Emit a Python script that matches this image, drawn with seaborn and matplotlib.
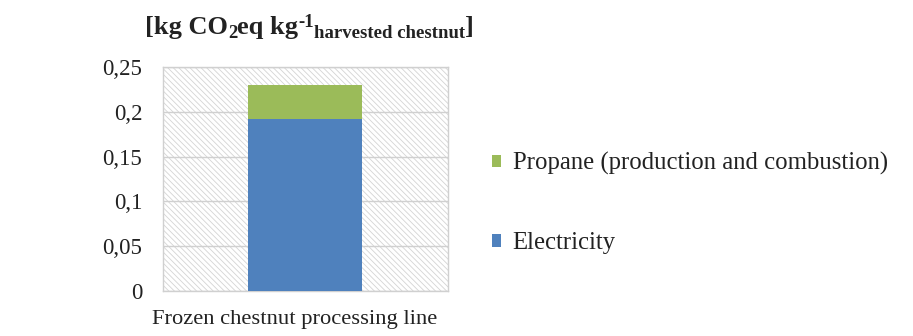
import matplotlib
matplotlib.use("Agg")
import matplotlib.pyplot as plt
from matplotlib.patches import Rectangle
from matplotlib.ticker import FuncFormatter
from matplotlib.transforms import offset_copy, ScaledTranslation
import seaborn as sns

categories = ["Frozen chestnut processing line"]
electricity = [0.192]
propane = [0.038]
series_labels = ["Electricity", "Propane (production and combustion)"]
yticks = [0, 0.05, 0.1, 0.15, 0.2, 0.25]

sns.set_theme(style="white")
plt.rcParams["font.family"] = "serif"
plt.rcParams["font.serif"] = ["Liberation Serif", "DejaVu Serif"]
plt.rcParams["hatch.linewidth"] = 0.6

fig = plt.figure(figsize=(9.13, 3.36), dpi=100)
ax = fig.add_axes([0.1785, 0.134, 0.3122, 0.6666])

grey = "#d0d0d0"
# hatched plot-area background
ax.add_patch(Rectangle((0, 0), 1, 1, transform=ax.transAxes, facecolor="white",
                       edgecolor="#d4d4d4", linewidth=0, hatch="\\" * 6, zorder=0))

blue = "#4F81BD"
green = "#9BBB59"
sns.barplot(x=categories, y=electricity, color=blue, width=0.4, ax=ax,
            saturation=1, linewidth=0, zorder=3, label=series_labels[0])
sns.barplot(x=categories, y=propane, bottom=electricity, color=green, width=0.4,
            ax=ax, saturation=1, linewidth=0, zorder=3, label=series_labels[1])
handles, labels = ax.get_legend_handles_labels()
if ax.legend_ is not None:
    ax.legend_.remove()

ax.set_xlim(-0.5, 0.5)
ax.set_ylim(0, 0.25)
ax.set_yticks(yticks)
ax.yaxis.set_major_formatter(FuncFormatter(lambda v, p: ("%g" % v).replace(".", ",")))
ax.grid(axis="y", color=grey, linewidth=1, zorder=1)
ax.set_axisbelow(True)
for s in ax.spines.values():
    s.set_color(grey)
    s.set_linewidth(1)
text_col = "#222222"
ax.tick_params(axis="both", length=0, labelsize=16.5, colors=text_col)
ax.tick_params(axis="x", pad=14, labelsize=16.2)
ax.tick_params(axis="y", pad=15)
ax.set_xlabel("")
ax.set_ylabel("")
# category label sits a little left of the bar centre
for lbl in ax.get_xticklabels():
    lbl.set_transform(lbl.get_transform() + ScaledTranslation(-0.11, 0, fig.dpi_scale_trans))

# unit title built from pieces so sub/superscripts sit inline
pieces = [("[kg CO", 19, 0), ("2", 13.5, -4), ("eq kg", 19, 0), ("-1", 13.5, 7),
          ("harvested chestnut", 13.5, -4), ("]", 19, 0)]
fig.canvas.draw()
renderer = fig.canvas.get_renderer()
x0 = 145
base_y = 336 - 34
for txt, size, dy in pieces:
    t = fig.text(0, 0, txt, fontsize=size, fontweight="bold", color=text_col,
                 ha="left", va="baseline",
                 transform=offset_copy(fig.transFigure, fig=fig, x=x0, y=base_y + dy,
                                       units="dots"))
    w = t.get_window_extent(renderer).width
    x0 += w

leg = fig.legend(handles[::-1], labels[::-1], loc="center left",
                 bbox_to_anchor=(0.514, 0.395), frameon=False, fontsize=17.8,
                 handlelength=0.4, handleheight=0.4, handletextpad=0.45,
                 labelspacing=2.3, labelcolor=text_col)

fig.savefig("out.png", dpi=100)
